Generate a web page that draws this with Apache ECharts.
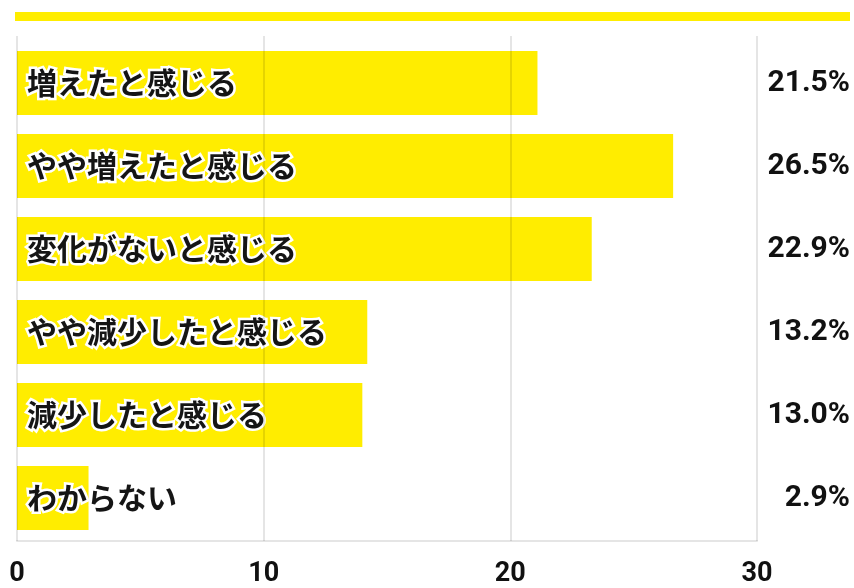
<!DOCTYPE html>
<html><head><meta charset="utf-8">
<script src="https://cdn.jsdelivr.net/npm/echarts@6/dist/echarts.min.js"></script>
<style>html,body{margin:0;padding:0;background:#fff}#c{width:854px;height:588px}</style>
</head><body><div id="c"></div>
<script>
const categories = ['増えたと感じる','やや増えたと感じる','変化がないと感じる','やや減少したと感じる','減少したと感じる','わからない'];
// bar lengths as drawn in the picture (axis units)
const barValues = [21.1, 26.6, 23.3, 14.2, 14.0, 2.9];
// percentage labels printed at the right
const percentLabels = ['21.5%','26.5%','22.9%','13.2%','13.0%','2.9%'];
const xTicks = [0, 10, 20, 30];

const YELLOW = '#FFED00';
const COND = "'Roboto','Liberation Sans Narrow',sans-serif";
const JP = "'Noto Sans CJK JP','Noto Sans',sans-serif";

const chart = echarts.init(document.getElementById('c'), null, {renderer:'canvas'});
chart.setOption({
  animation:false,
  backgroundColor:'#fff',
  graphic:[{type:'rect', shape:{x:15,y:12,width:835,height:9}, style:{fill:YELLOW}, z:0}],
  grid:[
    {left:17, right:97, top:41.5, height:498},
    {left:17, right:97, top:36, bottom:41}
  ],
  xAxis:[
    {gridIndex:0, type:'value', min:0, max:30, interval:10, show:false},
    {gridIndex:1, type:'value', min:xTicks[0], max:xTicks[xTicks.length-1], interval:10, z:20,
     axisLine:{show:true, lineStyle:{color:'rgba(0,0,0,0.1)', width:2}},
     axisTick:{show:false},
     splitLine:{show:true, lineStyle:{color:'rgba(0,0,0,0.1)', width:2}},
     axisLabel:{color:'#111', fontFamily:COND, fontSize:27, fontWeight:'bold', margin:20,
       formatter:v=> xTicks.includes(v) ? String(v) : ''}}
  ],
  yAxis:[
    {gridIndex:0, type:'category', data:categories, inverse:true, show:false},
    {gridIndex:0, type:'category', data:percentLabels, inverse:true, position:'right',
     axisLine:{show:false}, axisTick:{show:false},
     axisLabel:{align:'right', margin:93, color:'#111', fontFamily:COND, fontSize:30, fontWeight:'bold'}},
    {gridIndex:1, type:'value', show:false}
  ],
  series:[{
    type:'bar', xAxisIndex:0, yAxisIndex:0, data:barValues, barWidth:64, z:2,
    itemStyle:{color:YELLOW},
    label:{show:true, position:'insideLeft', distance:10, formatter:'{b}',
      fontFamily:JP, fontSize:30, fontWeight:'bold', color:'#151515',
      textBorderColor:'#fff', textBorderWidth:5}
  }]
});
</script></body></html>
